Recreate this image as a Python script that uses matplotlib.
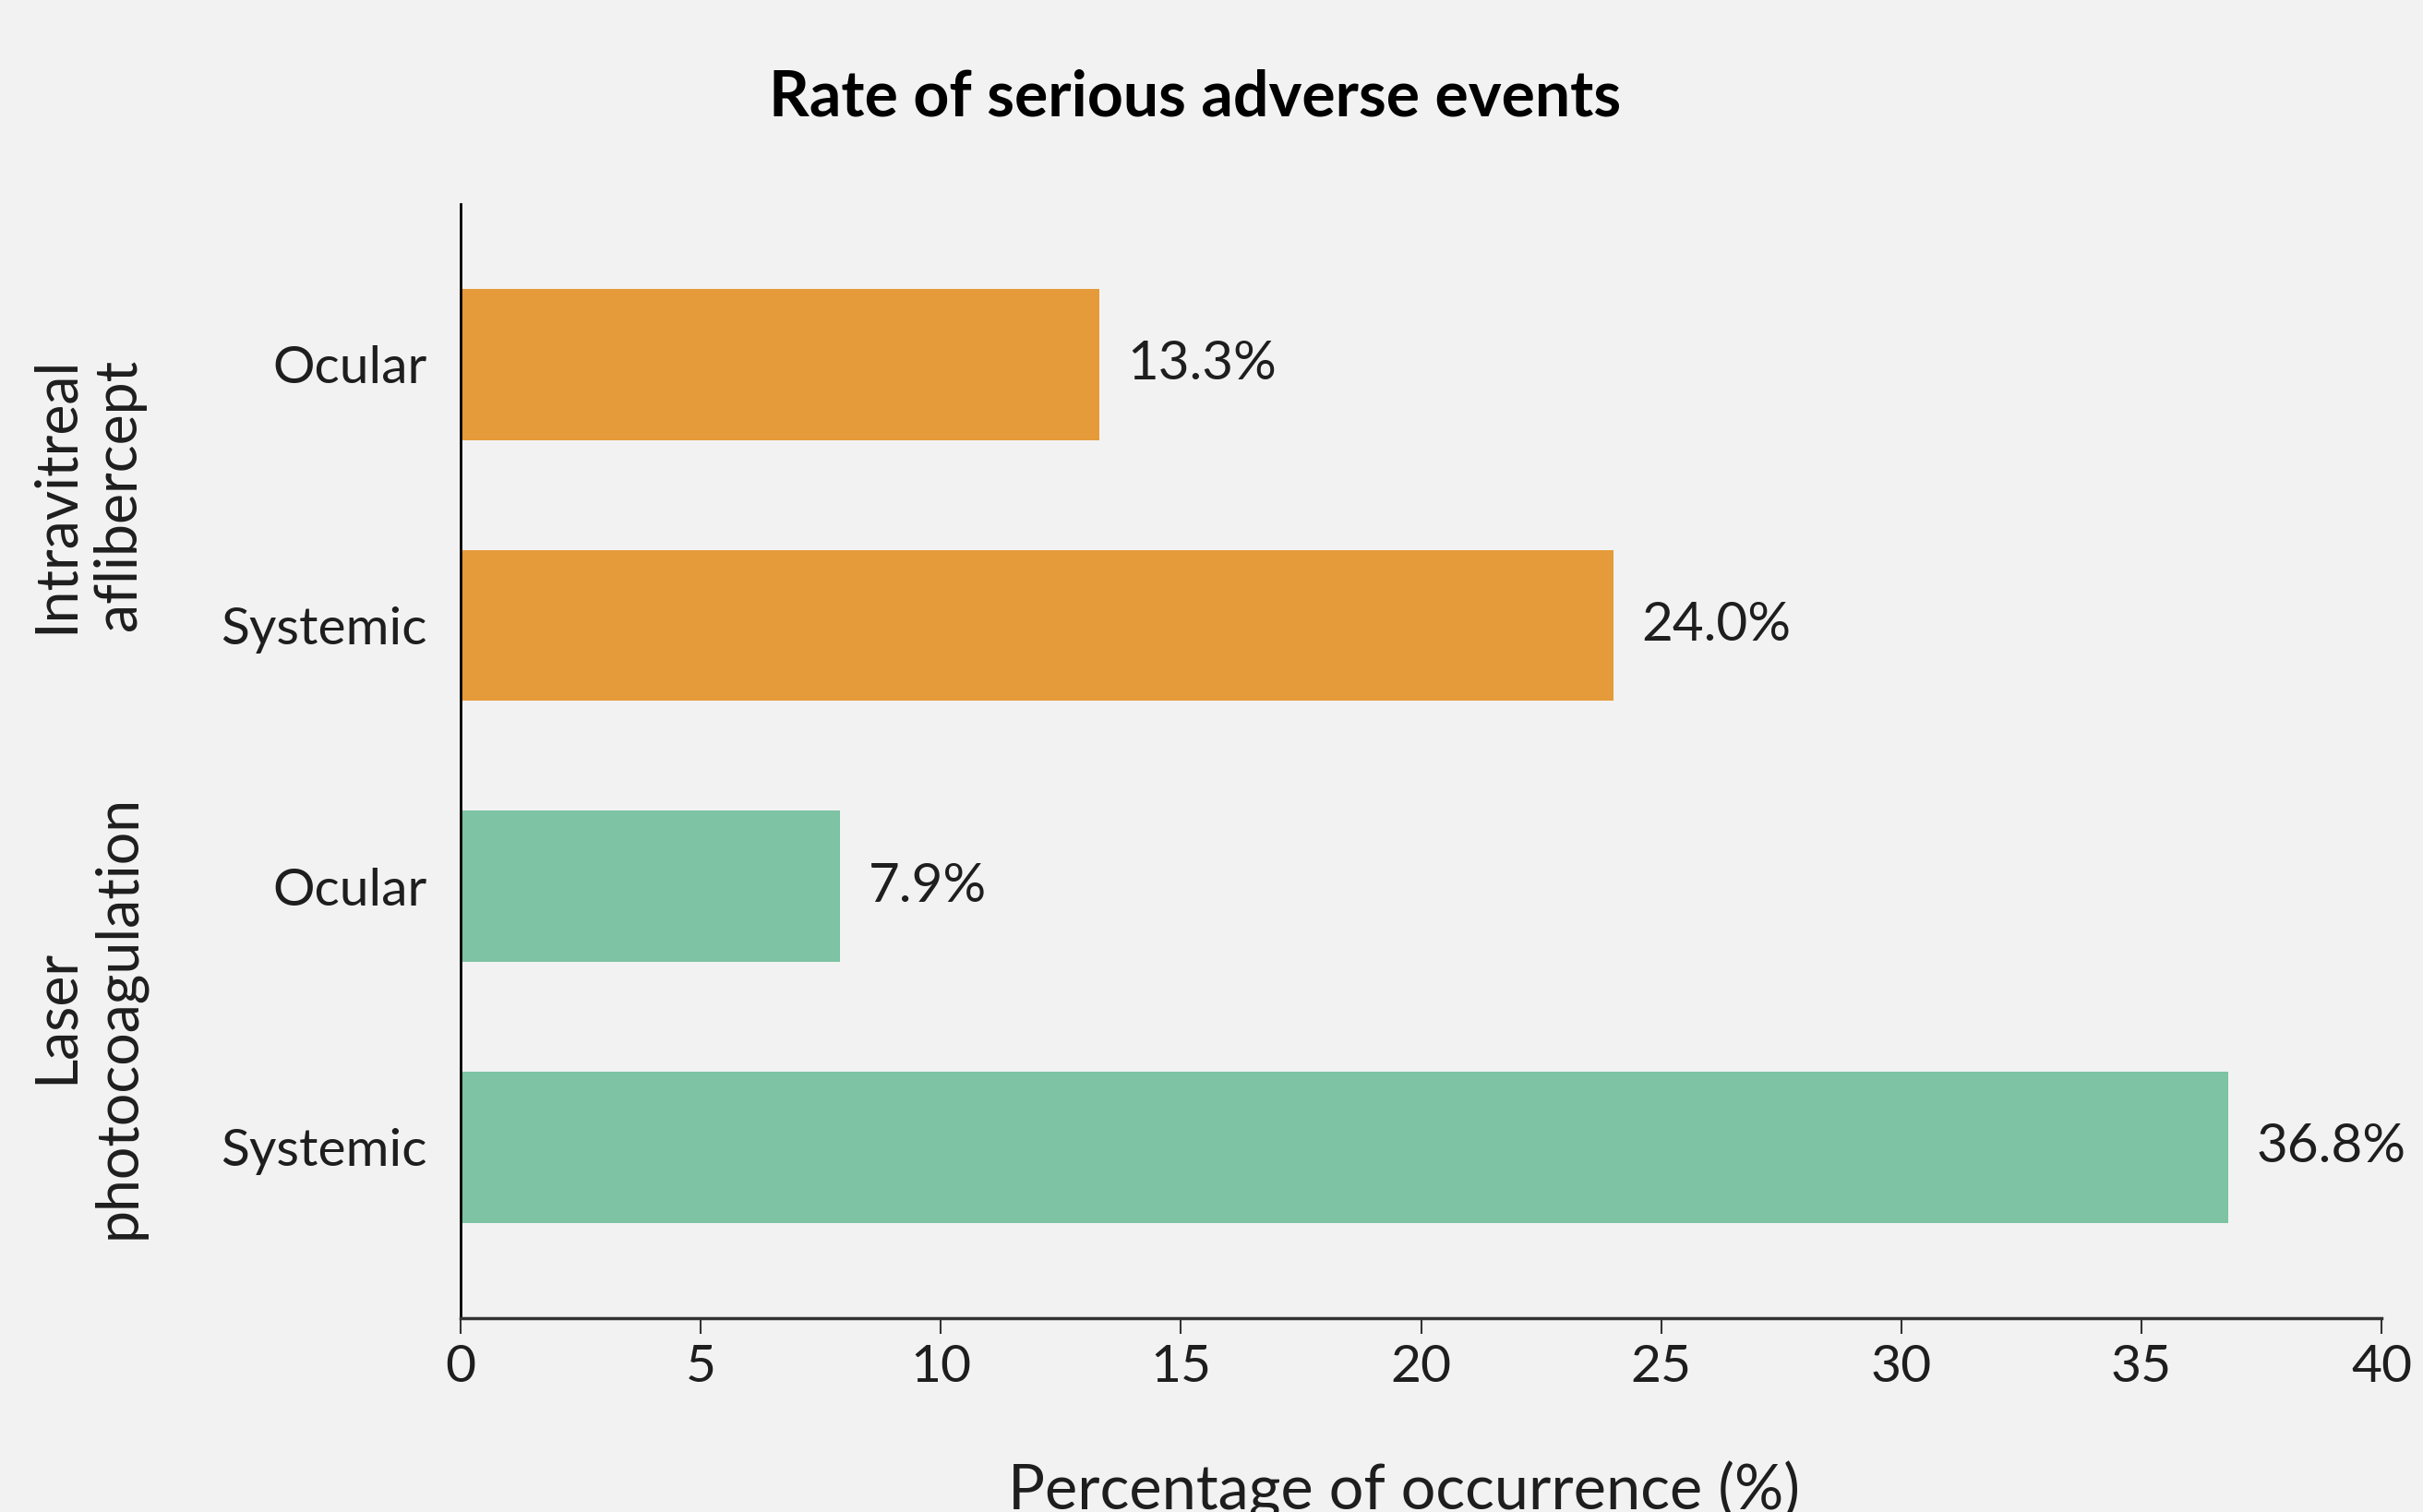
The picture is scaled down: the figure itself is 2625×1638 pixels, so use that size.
import numpy as np
import matplotlib.pyplot as plt

plt.rcParams['font.family'] = ['Lato', 'DejaVu Sans']

# datos
categories = ['Ocular', 'Systemic', 'Ocular', 'Systemic']
values = [13.3, 24.0, 7.9, 36.8]
groups = ['Intravitreal\naflibercept', 'Laser\nphotocoagulation']
xticks = [0, 5, 10, 15, 20, 25, 30, 35, 40]

orange = '#E59B3A'
green = '#7DC3A4'
bar_colors = [orange, orange, green, green]
bg = '#F2F2F2'
txt = '#1E1E1E'

fig = plt.figure(figsize=(26.25, 16.38), dpi=100)
fig.patch.set_facecolor(bg)
ax = fig.add_axes([0.190, 0.128, 0.793, 0.737])
ax.set_facecolor(bg)

ypos = np.arange(len(values))
ax.barh(ypos, values, height=0.58, color=bar_colors)

# etiquetas de valor
for y, v in zip(ypos, values):
    ax.annotate(f'{v:.1f}%', xy=(v, y), xytext=(22, 0), textcoords='offset points',
                va='center', ha='left', fontsize=42, color=txt)

ax.set_ylim(3.657, -0.615)
ax.set_xlim(0, 40)
ax.set_yticks(ypos)
ax.set_yticklabels(categories, fontsize=41, color=txt)
ax.set_xticks(xticks)
ax.set_xticklabels([str(t) for t in xticks], fontsize=41, color=txt)
ax.tick_params(axis='y', length=0, pad=26)
ax.tick_params(axis='x', length=12, width=1.5, pad=8, color='#333333')

for s in ['top', 'right']:
    ax.spines[s].set_visible(False)
ax.spines['left'].set_linewidth(2)
ax.spines['bottom'].set_linewidth(2.5)
ax.spines['bottom'].set_color('#333333')

# etiquetas de grupo (rotadas)
for i, g in enumerate(groups):
    yc = (ypos[2 * i] + ypos[2 * i + 1]) / 2
    ax.text(-0.194, yc, g, transform=ax.get_yaxis_transform(), rotation=90,
            ha='center', va='center', fontsize=45, color=txt, linespacing=1.2)

fig.text(0.493, 0.935, 'Rate of serious adverse events', fontsize=49,
         fontweight='bold', color='black', ha='center', va='center')
ax.set_xlabel('Percentage of occurrence (%)', fontsize=48, color=txt)
ax.xaxis.set_label_coords(0.491, -0.128)
ax.xaxis.label.set_va('top')

fig.savefig('out.png', dpi=100, facecolor=bg)
